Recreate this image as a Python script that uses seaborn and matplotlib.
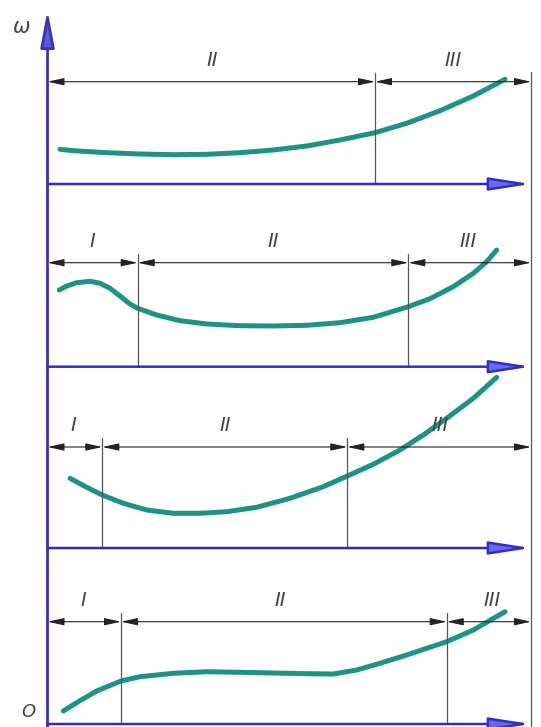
import numpy as np
import pandas as pd
import matplotlib.pyplot as plt
import seaborn as sns

# curves (pixel coords, y grows downward)
c1_x = [60, 73.3, 106.7, 140, 173.3, 206.7, 240, 273.3, 306.7, 340, 375, 406.7, 440, 473.3, 505]
c1_y = [149.3, 150.7, 152.7, 154, 154.7, 154.3, 152.7, 150, 146, 140, 132.7, 123.3, 110.7, 96, 79.3]
c2_x = [59.3, 66.7, 76.7, 90, 100, 110, 120, 130, 137.7, 156.7, 180, 206.7, 240, 273.3,
        306.7, 340, 373.3, 408.3, 430, 453.3, 473.3, 486.7, 496.7]
c2_y = [290, 286, 282.7, 281.3, 283.3, 288.3, 296, 304, 308.3, 315, 320.7, 324, 325.7, 326,
        325.3, 322.7, 317.3, 306.7, 298.7, 286.7, 273.3, 261.7, 250]
c3_x = [70, 86.7, 102.3, 123.3, 146.7, 173.3, 200, 226.7, 256.7, 290, 323.3, 347.3, 373.3,
        400, 423.3, 446.7, 473.3, 496.7]
c3_y = [478.3, 487.3, 495, 503.3, 510, 513.3, 513.3, 511.7, 507.3, 498.3, 486.7, 476, 464.3,
        450, 435, 418.3, 398.3, 377.3]
c4_x = [63.3, 80, 96.7, 121, 140, 173.3, 206.7, 240, 273.3, 306.7, 333.3, 356.7, 380, 406.7,
        446.7, 473.3, 505]
c4_y = [711, 700.7, 691, 681, 676.7, 673.3, 671.7, 672.3, 673, 673.7, 674, 670, 663.3, 655,
        641.7, 630, 611.7]

# zone boundaries for each panel: (dimension line y, divider xs, labels)
panel_dim_y = [81.7, 262.7, 447, 621.7]
panel_dividers = [[375], [137.7, 408.3], [102.3, 347.3], [121, 446.7]]
panel_labels = [["II", "III"], ["I", "II", "III"], ["I", "II", "III"], ["I", "II", "III"]]
label_x = [[212, 453], [92, 273, 468], [73, 225, 440], [83, 280, 492]]
axis_y = [184, 366.7, 548, 724]

x_left, x_right = 47.5, 531

sns.set_style("white")
fig = plt.figure(figsize=(5.41, 7.27), dpi=100)
ax = fig.add_axes([0, 0, 1, 1])
ax.set_xlim(0, 541)
ax.set_ylim(727, 0)
ax.axis("off")

teal = "#1d9383"
blue = "#2f2fc8"
thin = "#555555"

# right frame line and vertical axis
ax.plot([x_right, x_right], [72, 727], color=thin, lw=0.9)
ax.annotate("", xy=(x_left, 10), xytext=(x_left, 727),
            arrowprops=dict(arrowstyle="-|>,head_length=1.6,head_width=0.3",
                            color="#3c34b0", fc="#5a5ae0", lw=2, mutation_scale=14,
                            shrinkA=0, shrinkB=0))

for i, (cx, cy) in enumerate([(c1_x, c1_y), (c2_x, c2_y), (c3_x, c3_y), (c4_x, c4_y)]):
    df = pd.DataFrame({"x": cx, "y": cy})
    sns.lineplot(data=df, x="x", y="y", sort=False, estimator=None, ax=ax,
                 color=teal, lw=3.6, solid_capstyle="round", solid_joinstyle="round")

    dy = panel_dim_y[i]
    ay = axis_y[i]
    # horizontal blue axis with arrow
    ax.annotate("", xy=(x_right, ay), xytext=(x_left, ay),
                arrowprops=dict(arrowstyle="-|>,head_length=1.8,head_width=0.28",
                                color=blue, fc="#6a6ae8", lw=1.8, mutation_scale=14,
                                shrinkA=0, shrinkB=0))
    # divider lines
    for dx in panel_dividers[i]:
        ax.plot([dx, dx], [dy - 9, ay], color=thin, lw=0.9)
    # dimension segments
    bounds = [x_left] + panel_dividers[i] + [x_right]
    for a, b in zip(bounds[:-1], bounds[1:]):
        ax.annotate("", xy=(b, dy), xytext=(a, dy),
                    arrowprops=dict(arrowstyle="<|-|>,head_length=1.0,head_width=0.22",
                                    color="#222222", lw=0.8, mutation_scale=10,
                                    shrinkA=0, shrinkB=0))
    for lab, lx in zip(panel_labels[i], label_x[i]):
        ax.text(lx, dy - 12, lab, ha="center", va="bottom", fontsize=14,
                style="italic", color="#444444")

ax.text(22, 27, "ω", ha="center", va="center", fontsize=15, style="italic", color="#444444")
ax.text(28, 712, "O", ha="center", va="center", fontsize=13, style="italic", color="#444444")

fig.savefig("out.png", dpi=100)
